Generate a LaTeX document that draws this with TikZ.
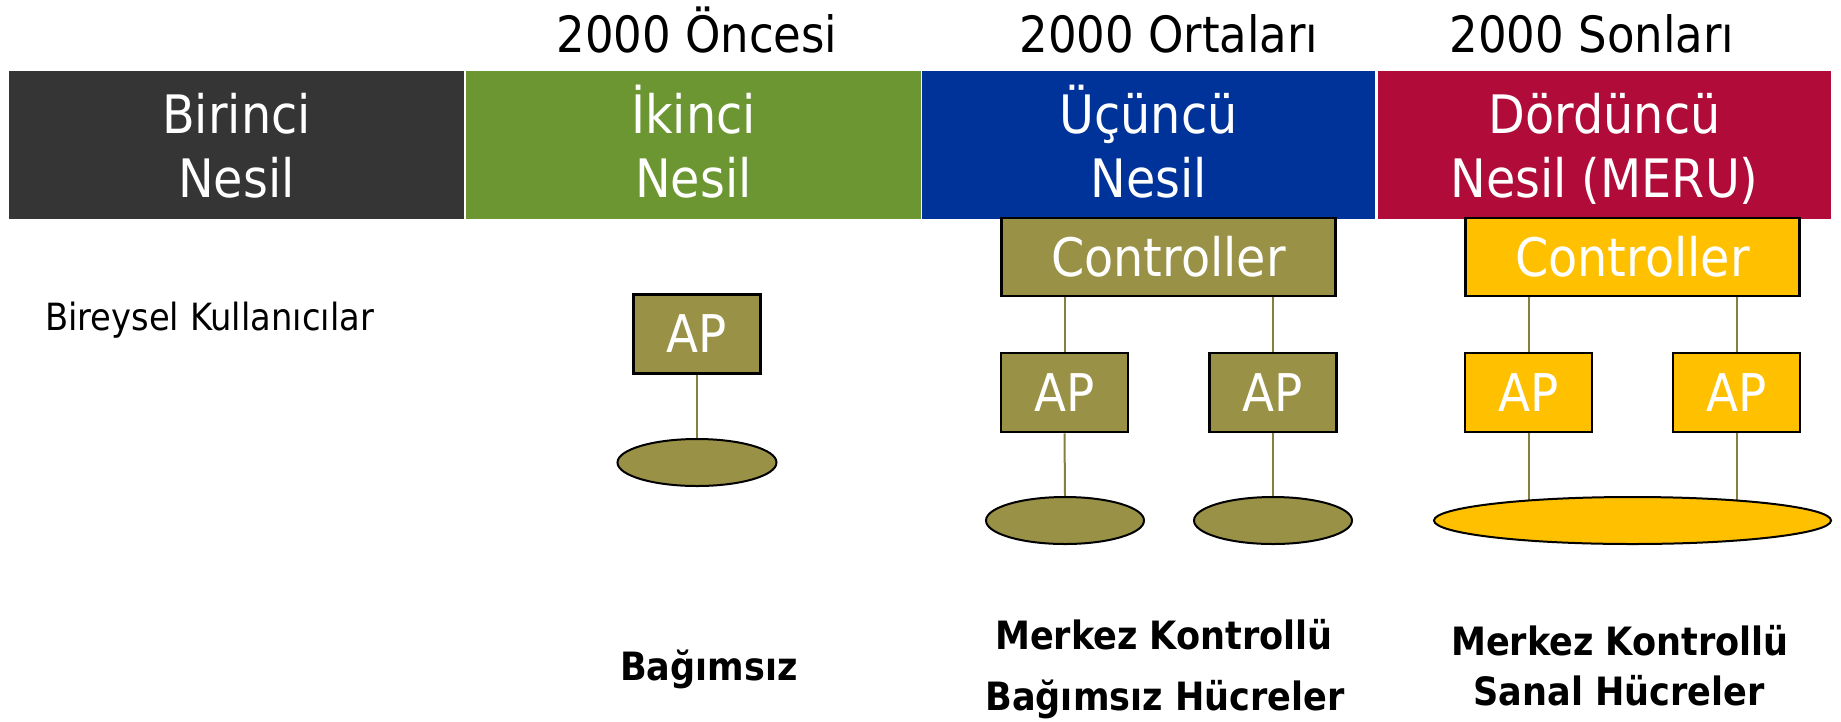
\documentclass[tikz,border=0pt]{standalone}
\usepackage{fontspec}
\setmainfont{DejaVu Sans}[FakeStretch=0.9]
\usetikzlibrary{shapes.geometric,backgrounds}
\definecolor{cdark}{RGB}{53,53,53}
\definecolor{cgreen}{RGB}{107,150,49}
\definecolor{cblue}{RGB}{0,51,153}
\definecolor{cred}{RGB}{177,11,57}
\definecolor{colive}{RGB}{153,145,70}
\definecolor{cyellow}{RGB}{255,192,0}
\definecolor{clink}{RGB}{135,128,60}
\tikzset{
  hdr/.style={rectangle, inner sep=0pt, minimum height=148pt, minimum width=455pt},
  hdrtxt/.style={text=white, font=\fontsize{53pt}{64pt}\selectfont, anchor=base, inner sep=0pt},
  toptxt/.style={font=\fontsize{50pt}{60pt}\selectfont, anchor=base, inner sep=0pt},
  devbox/.style={rectangle, draw=black, line width=2.5pt, text=white, inner sep=0pt},
  ctrlbox/.style={devbox, minimum width=334pt, minimum height=78pt, font=\fontsize{53pt}{60pt}\selectfont},
  apbox/.style={devbox, minimum width=127pt, minimum height=79pt, font=\fontsize{52pt}{60pt}\selectfont},
  cell/.style={ellipse, draw=black, line width=2pt, inner sep=0pt, minimum height=47pt},
  link/.style={draw=clink, line width=2pt},
  lbl/.style={font=\fontsize{39pt}{45pt}\selectfont\bfseries, anchor=base, inner sep=0pt},
}
\begin{document}
\begin{tikzpicture}[x=1pt,y=-1pt]
\useasboundingbox (0,0) rectangle (1841,721);
% header bars
\node[hdr, fill=cdark]  (h1) at (236.5,144.5) {};
\node[hdr, fill=cgreen] (h2) at (693.5,144.5) {};
\node[hdr, fill=cblue, minimum width=453pt] (h3) at (1148.5,144.5) {};
\node[hdr, fill=cred, minimum width=453pt]  (h4) at (1604.5,144.5) {};
\node[hdrtxt] (h1a) at (236.5,133) {Birinci};
\node[hdrtxt] (h1b) at (236.5,197) {Nesil};
\node[hdrtxt] (h2a) at (693.5,133) {İkinci};
\node[hdrtxt] (h2b) at (693.5,197) {Nesil};
\node[hdrtxt] (h3a) at (1148.5,133) {Üçüncü};
\node[hdrtxt] (h3b) at (1148.5,197) {Nesil};
\node[hdrtxt] (h4a) at (1604.5,133) {Dördüncü};
\node[hdrtxt] (h4b) at (1604.5,197) {Nesil (MERU)};
% era labels
\node[toptxt] (t2) at (697,52) {2000 Öncesi};
\node[toptxt] (t3) at (1169,52) {2000 Ortaları};
\node[toptxt] (t4) at (1592,52) {2000 Sonları};
% first generation
\node[font=\fontsize{37.5pt}{40pt}\selectfont, anchor=base west, inner sep=0pt] (u1) at (45,330) {Bireysel Kullanıcılar};
% second generation
\node[apbox, fill=colive] (ap2) at (697,334) {AP};
\node[cell, fill=colive, minimum width=159pt] (c2) at (697,462.5) {};
% third generation
\node[ctrlbox, fill=colive] (ctrl3) at (1168.5,257) {Controller};
\node[apbox, fill=colive] (ap3a) at (1064.5,392.5) {AP};
\node[apbox, fill=colive] (ap3b) at (1273,392.5) {AP};
\node[cell, fill=colive, minimum width=158pt] (c3a) at (1065,520.5) {};
\node[cell, fill=colive, minimum width=158pt] (c3b) at (1273,520.5) {};
% fourth generation
\node[ctrlbox, fill=cyellow] (ctrl4) at (1632.5,257) {Controller};
\node[apbox, fill=cyellow] (ap4a) at (1528.5,392.5) {AP};
\node[apbox, fill=cyellow] (ap4b) at (1736.5,392.5) {AP};
\node[cell, fill=cyellow, minimum width=397pt] (c4) at (1632.5,520.5) {};
% bottom labels
\node[lbl] (l2) at (709,680) {Bağımsız};
\node[lbl] (l3a) at (1164,649) {Merkez Kontrollü};
\node[lbl] (l3b) at (1165,710) {Bağımsız Hücreler};
\node[lbl] (l4a) at (1620,655) {Merkez Kontrollü};
\node[lbl] (l4b) at (1619,705) {Sanal Hücreler};
% connectors
\begin{pgfonlayer}{background}
\fill[white] (0,0) rectangle (1841,721);
\draw[link] (ap2.south) -- (c2.north);
\draw[link] (ap3a.north |- ctrl3.south) -- (ap3a.north);
\draw[link] (ap3b.north |- ctrl3.south) -- (ap3b.north);
\draw[link] (ap3a.south) -- (c3a.north);
\draw[link] (ap3b.south) -- (c3b.north);
\draw[link] (ap4a.north |- ctrl4.south) -- (ap4a.north);
\draw[link] (ap4b.north |- ctrl4.south) -- (ap4b.north);
\draw[link] (ap4a.south) -- (ap4a.south |- c4.center);
\draw[link] (ap4b.south) -- (ap4b.south |- c4.center);
\end{pgfonlayer}
\end{tikzpicture}
\end{document}
